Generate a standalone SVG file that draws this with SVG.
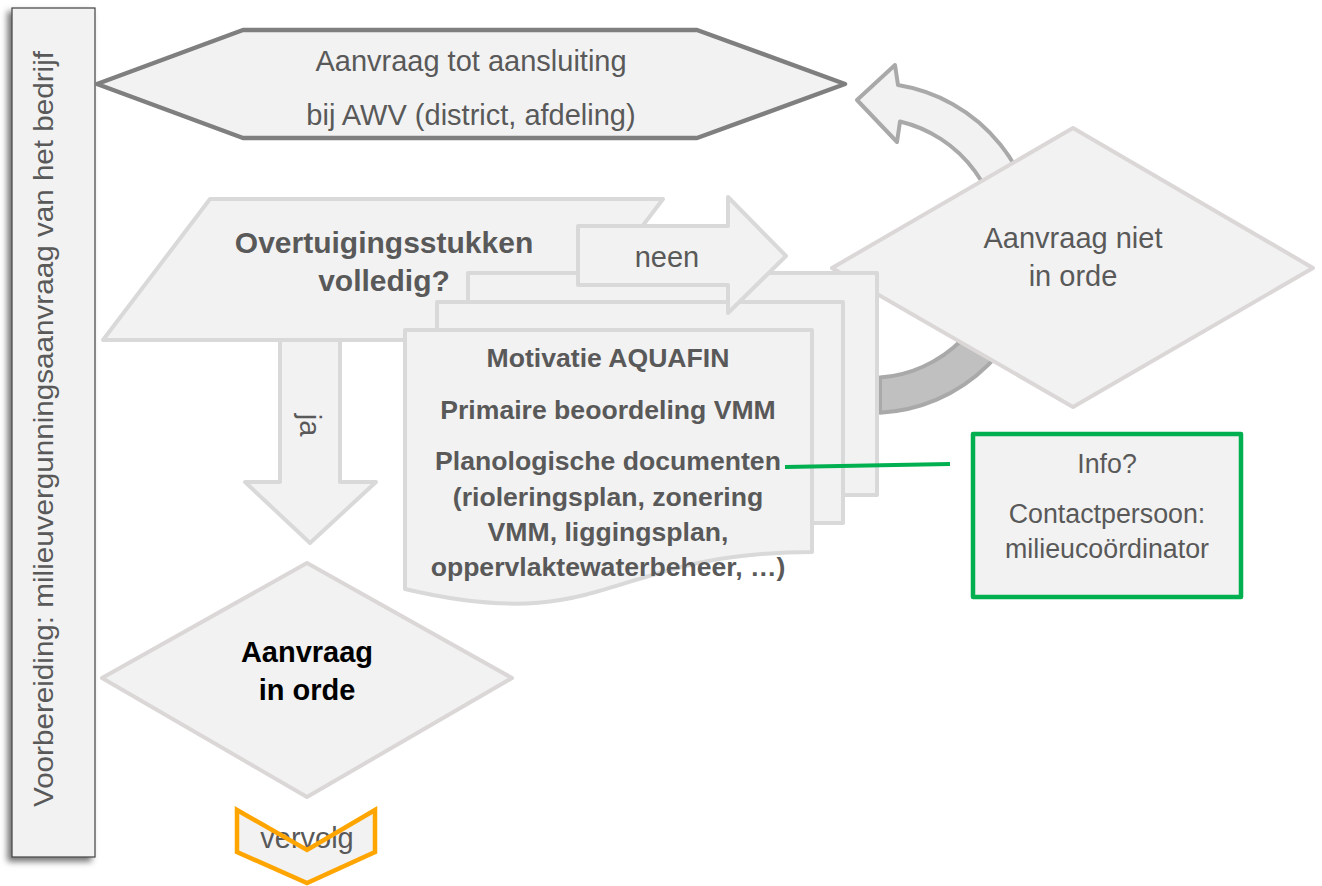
<svg xmlns="http://www.w3.org/2000/svg" width="1322" height="886" viewBox="0 0 1322 886">
<style>
text{font-family:"Liberation Sans",Arial,Helvetica,sans-serif;fill:#595959;font-size:29px;text-anchor:middle}
.b{font-weight:bold}
.d{font-size:26.6px}
.i{font-size:26.8px}
.shape{fill:#f2f2f2;stroke:#d9d9d9;stroke-width:4;stroke-linejoin:round}
.dia{fill:#f2f2f2;stroke:#dbd7d7;stroke-width:4;stroke-linejoin:round}
</style>
<defs>
<filter id="sh" x="-20%" y="-5%" width="140%" height="110%">
<feDropShadow dx="-4" dy="4" stdDeviation="3" flood-color="#000" flood-opacity="0.55"/>
</filter>
<linearGradient id="arcg" gradientUnits="userSpaceOnUse" x1="0" y1="270" x2="0" y2="300">
<stop offset="0" stop-color="#f2f2f2"/>
<stop offset="1" stop-color="#c0c0c0"/>
</linearGradient>
</defs>

<g id="lane">
<rect x="12" y="8" width="83" height="849" fill="#f2f2f2" stroke="#404040" stroke-width="1.2" filter="url(#sh)"/>
<text transform="translate(53,429) rotate(-90)" textLength="756" lengthAdjust="spacingAndGlyphs" style="font-size:28px">Voorbereiding: milieuvergunningsaanvraag van het bedrijf</text>
</g>

<g id="aanvraag-aansluiting">
<polygon points="97,84 243,30 697,30 845,84 697,138 243,138" fill="#f2f2f2" stroke="#7f7f7f" stroke-width="4.5" stroke-linejoin="round"/>
<text x="471" y="71">Aanvraag tot aansluiting</text>
<text x="471" y="125">bij AWV (district, afdeling)</text>
</g>

<g id="connectors">
<path id="terug-pijl" d="M880,412.7 A165,165 0 0 0 898,85 L895,65 L857,100 L897,142 L900,121.5 A130,130 0 0 1 880,377.6 Z" fill="url(#arcg)" stroke="#a9a9a9" stroke-width="4" stroke-linejoin="round"/>
</g>

<g id="niet-in-orde">
<polygon class="dia" points="832,268 1073,128 1313,268 1073,407"/>
<text x="1073" y="248">Aanvraag niet</text>
<text x="1073" y="286">in orde</text>
</g>

<g id="overtuigingsstukken">
<polygon class="shape" points="210,199 663,199 556,340 103,340"/>
<text class="b" x="384" y="253" style="font-size:30px">Overtuigingsstukken</text>
<text class="b" x="384" y="291" style="font-size:30px">volledig?</text>
</g>

<g id="ja-pijl">
<polygon class="shape" points="280,340 340,340 340,482 376,482 310,543 245,482 280,482"/>
<text transform="translate(310,425) rotate(90)" dy="0.35em">ja</text>
</g>

<g id="documenten">
<rect class="shape" x="468" y="273" width="409" height="222"/>
<rect class="shape" x="437" y="302" width="406" height="221"/>
</g>

<g id="neen-pijl">
<polygon class="shape" points="578,226 728,226 728,197 786,256 728,313 728,285 578,285"/>
<text x="667" y="267">neen</text>
</g>

<g id="document-voor">
<path class="shape" d="M405,330 H812 V552 C608,552 608,637 405,589 Z"/>
<text class="b d" x="608" y="367">Motivatie AQUAFIN</text>
<text class="b d" x="608" y="419">Primaire beoordeling VMM</text>
<text class="b d" x="608" y="470">Planologische documenten</text>
<text class="b d" x="608" y="506">(rioleringsplan, zonering</text>
<text class="b d" x="608" y="541">VMM, liggingsplan,</text>
<text class="b d" x="608" y="576">oppervlaktewaterbeheer, …)</text>
</g>

<g id="info-lijn">
<line x1="785" y1="467" x2="950" y2="464" stroke="#00b050" stroke-width="4"/>
</g>

<g id="info">
<rect x="973" y="434" width="268" height="163" fill="#f2f2f2" stroke="#00b050" stroke-width="4.5" stroke-linejoin="round"/>
<text class="i" x="1107" y="473">Info?</text>
<text class="i" x="1107" y="523">Contactpersoon:</text>
<text class="i" x="1107" y="558">milieucoördinator</text>
</g>

<g id="in-orde">
<polygon class="dia" points="102,678 307,563 512,678 307,797"/>
<text class="b" x="307" y="662" style="fill:#000">Aanvraag</text>
<text class="b" x="307" y="700" style="fill:#000">in orde</text>
</g>

<g id="vervolg">
<polygon points="237,810 307,850 375,810 375,852 307,883 237,852" fill="#f2f2f2"/>
<text x="307" y="848">vervolg</text>
<polygon points="237,810 307,850 375,810 375,852 307,883 237,852" fill="none" stroke="#ffa500" stroke-width="4.5" stroke-linejoin="miter"/>
</g>
</svg>
